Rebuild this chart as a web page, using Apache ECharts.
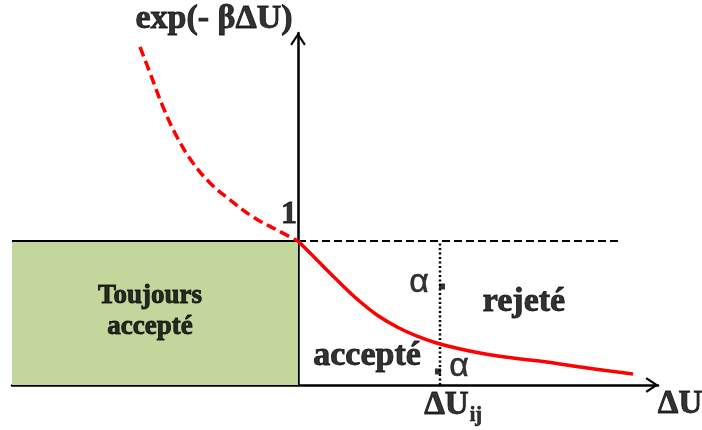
<!DOCTYPE html>
<html>
<head>
<meta charset="utf-8">
<script src="https://cdn.jsdelivr.net/npm/echarts@6/dist/echarts.min.js"></script>
<style>html,body{margin:0;padding:0;background:#fff}#c{width:702px;height:430px}</style>
</head>
<body>
<div id="c"></div>
<script>
// ---- data (ΔU in arbitrary units, y = exp(-βΔU)) ----
const dashedX = [-1.58, -1.48, -1.35, -1.21, -1.05, -0.88, -0.68, -0.45, -0.21, 0];
const dashedY = [2.347, 2.167, 1.931, 1.722, 1.542, 1.403, 1.285, 1.167, 1.076, 1.0];
const solidX = [0, 0.19, 0.39, 0.59, 0.79, 0.99, 1.19, 1.42, 1.82, 2.15, 2.49, 2.82, 3.12, 3.35];
const solidY = [1.0, 0.868, 0.729, 0.597, 0.486, 0.403, 0.340, 0.285, 0.222, 0.188, 0.160, 0.125, 0.097, 0.076];
const thresholdY = 1;
const thresholdEndX = 3.24;
const deltaUij = 1.42;
const alphaUpperY = 0.684;
const alphaLowerY = 0.094;
const xMin = -2.86, xMax = 3.6, yMin = 0, yMax = 2.444;
const texts = {
  yTitle: 'exp(- βΔU)', one: '1', always: 'Toujours\naccepté', rejected: 'rejeté',
  accepted: 'accepté', alpha: 'α', dUij: 'ΔU', ij: 'ij', dU: 'ΔU'
};

const chart = echarts.init(document.getElementById('c'), null, {renderer: 'canvas'});
const px2x = p => (p - 298) / 100;
const px2y = p => (385 - p) / 144;
const serif = 'Liberation Serif';
const chevron = 'path://M8,0 L16,12 L14.2,13.4 L8,3.8 L1.8,13.4 L0,12 Z';

function lbl(x, y, text, fontSize, extra) {
  return {
    value: [x, y],
    label: Object.assign({
      show: true, position: 'inside', formatter: text, color: '#000',
      fontFamily: serif, fontWeight: 'bold', fontSize: fontSize,
      align: 'center', verticalAlign: 'middle',
      textBorderColor: '#000', textBorderWidth: 0.9
    }, extra || {})
  };
}
const sansAlpha = {fontFamily: 'Liberation Sans', fontWeight: 'normal', textBorderWidth: 0.5};

const labelData = [
  lbl(px2x(214), px2y(19), texts.yTitle, 34),
  lbl(px2x(289), px2y(215), texts.one, 32),
  lbl(px2x(150), px2y(312), texts.always, 27, {lineHeight: 31}),
  lbl(px2x(524), px2y(302), texts.rejected, 34),
  lbl(px2x(367), px2y(356), texts.accepted, 34),
  lbl(px2x(419), px2y(283), texts.alpha, 34, sansAlpha),
  lbl(px2x(459), px2y(367), texts.alpha, 34, sansAlpha),
  lbl(px2x(453), px2y(404), '{a|' + texts.dUij + '}{b|' + texts.ij + '}', 33, {
    rich: {
      a: {fontFamily: serif, fontWeight: 'bold', fontSize: 33, color: '#000', lineHeight: 36, verticalAlign: 'bottom',
          textBorderColor: '#000', textBorderWidth: 0.9},
      b: {fontFamily: serif, fontWeight: 'bold', fontSize: 20, color: '#000', lineHeight: 20, verticalAlign: 'bottom', padding: [0, 0, -4, 1],
          textBorderColor: '#000', textBorderWidth: 0.7}
    }
  }),
  lbl(px2x(680), px2y(404), texts.dU, 33)
];

const option = {
  animation: false,
  backgroundColor: '#fff',
  grid: {left: 12, right: 44, top: 33, bottom: 45},
  xAxis: {
    type: 'value', min: xMin, max: xMax,
    axisLine: {show: true, onZero: false, lineStyle: {color: '#000', width: 2.5},
      symbol: ['none', chevron], symbolSize: [16, 13], symbolOffset: [0, -6]},
    axisTick: {show: false}, axisLabel: {show: false}, splitLine: {show: false}
  },
  yAxis: {
    type: 'value', min: yMin, max: yMax,
    axisLine: {show: true, onZero: true, lineStyle: {color: '#000', width: 2.5},
      symbol: ['none', chevron], symbolSize: [16, 13], symbolOffset: [0, -6]},
    axisTick: {show: false}, axisLabel: {show: false}, splitLine: {show: false}
  },
  series: [
    {
      type: 'line', name: 'box', data: [[xMin, thresholdY], [0, thresholdY]],
      symbol: 'none', lineStyle: {color: '#000', width: 2}, z: 3,
      markArea: {silent: true, itemStyle: {color: '#c3d69b'},
        data: [[{coord: [xMin, 0]}, {coord: [0, thresholdY]}]]}
    },
    {
      type: 'line', name: 'threshold', data: [[0, thresholdY], [thresholdEndX, thresholdY]],
      symbol: 'none', lineStyle: {color: '#000', width: 2, type: [8, 4]}, z: 3
    },
    {
      type: 'line', name: 'dUij', data: [[deltaUij, 0], [deltaUij, thresholdY]],
      symbol: 'none', lineStyle: {color: '#000', width: 2.5, type: [2, 2.5]}, z: 3
    },
    {
      type: 'line', name: 'dashedCurve', data: dashedX.map((x, i) => [x, dashedY[i]]),
      symbol: 'none', smooth: 0.4, clip: false,
      lineStyle: {color: '#ff0000', width: 3.5, type: [10, 5]}, z: 4
    },
    {
      type: 'line', name: 'solidCurve', data: solidX.map((x, i) => [x, solidY[i]]),
      symbol: 'none', smooth: 0.4,
      lineStyle: {color: '#ff0000', width: 3.5}, z: 4
    },
    {
      type: 'scatter', name: 'alphaMarks', symbol: 'rect', symbolSize: 6,
      itemStyle: {color: '#000'},
      data: [
        {value: [deltaUij, alphaUpperY], symbolOffset: [2, 0]},
        {value: [deltaUij, alphaLowerY], symbolOffset: [-2, 0]}
      ], z: 5
    },
    {
      type: 'scatter', name: 'labels', symbolSize: 0, clip: false, silent: true,
      data: labelData, z: 6
    }
  ]
};
chart.setOption(option);
</script>
</body>
</html>
